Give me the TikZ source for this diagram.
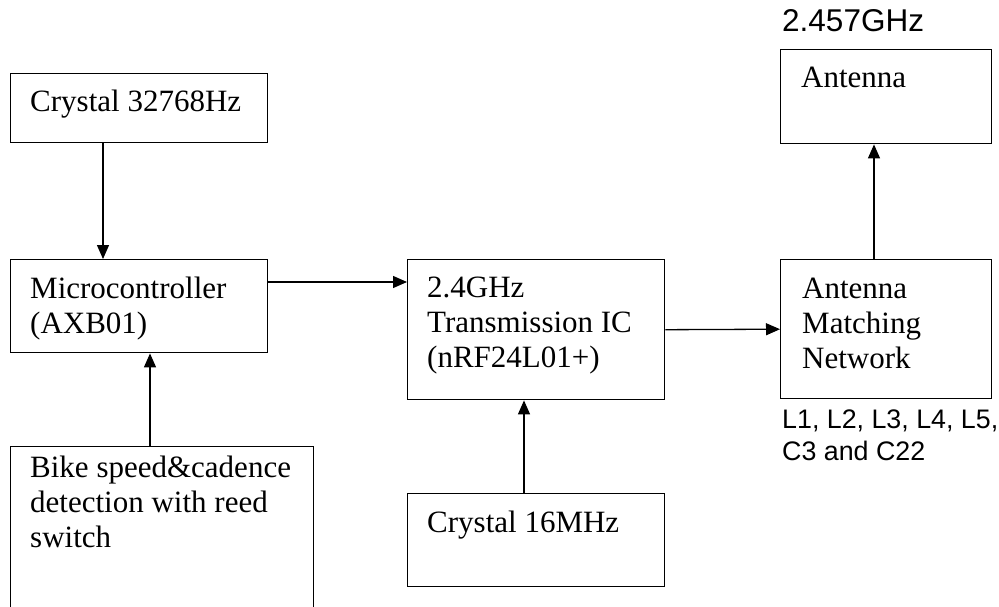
\documentclass[tikz,border=0pt]{standalone}
\usepackage{fontspec}
\setmainfont{Liberation Serif}
\newfontfamily\labelfont{Liberation Sans}
\usetikzlibrary{arrows.meta}
\usetikzlibrary{calc}
\usetikzlibrary{positioning}

\begin{document}
\begin{tikzpicture}[x=1pt, y=-1pt]
	\tikzstyle{blk}=[draw, line width=1.4pt, anchor=north west, inner sep=0pt];
	\tikzstyle{txt}=[anchor=base west, align=left, inner sep=0pt,
	                        font=\fontsize{31}{35}\selectfont];
	\tikzstyle{note}=[anchor=base west, align=left, inner sep=0pt,
	                        font=\labelfont\fontsize{26.8}{32}\selectfont];
	\tikzstyle{arr}=[line width=1.3pt, -{Triangle[length=14pt, width=12pt]}];
	\clip (0,0) rectangle (999,607);
	\node[blk, minimum width=257, minimum height=69] (xtal) at (10,73) {};
	\node[blk, minimum width=257, minimum height=93] (mcu) at (10,259) {};
	\node[blk, minimum width=303, minimum height=200] (bike) at (10,446) {};
	\node[blk, minimum width=257, minimum height=140] (rfic) at (407,259) {};
	\node[blk, minimum width=257, minimum height=93] (xtal16) at (407,493) {};
	\node[blk, minimum width=211, minimum height=94] (ant) at (780,49) {};
	\node[blk, minimum width=211, minimum height=139] (match) at (780,259) {};
	\node[txt] (xtal-t) at ($(xtal.north west)+(20,39)$) {Crystal 32768Hz};
	\node[txt] (mcu-t) at ($(mcu.north west)+(20,74)$) {Microcontroller\\(AXB01)};
	\node[txt] (bike-t) at ($(bike.north west)+(20,101)$)
		{Bike speed\&cadence\\detection with reed\\switch};
	\node[txt] (rfic-t) at ($(rfic.north west)+(20,108)$)
		{2.4GHz\\Transmission IC\\(nRF24L01+)};
	\node[txt] (xtal16-t) at ($(xtal16.north west)+(20,39)$) {Crystal 16MHz};
	\node[txt] (ant-t) at ($(ant.north west)+(21,39)$) {Antenna};
	\node[txt] (match-t) at ($(match.north west)+(22,109)$) {Antenna\\Matching\\Network};
	\node[note, font=\labelfont\fontsize{31.5}{32}\selectfont] (freq)
		at ($(ant.north west)+(2,-17)$) {2.457GHz};
	\node[note] (parts) at ($(match.south west)+(2,61)$) {L1, L2, L3, L4, L5,\\C3 and C22};
	\draw[arr] ([xshift=93]xtal.south west) -- ([xshift=93]mcu.north west);
	\draw[arr] ([xshift=140]bike.north west) -- ([xshift=140]mcu.south west);
	\draw[arr] ([yshift=-23]mcu.north east) -- ([yshift=-23]rfic.north west);
	\draw[arr] (rfic.east) -- (match.west);
	\draw[arr] ([xshift=117]xtal16.north west) -- ([xshift=117]rfic.south west);
	\draw[arr] ([xshift=94]match.north west) -- ([xshift=94]ant.south west);
\end{tikzpicture}
\end{document}
